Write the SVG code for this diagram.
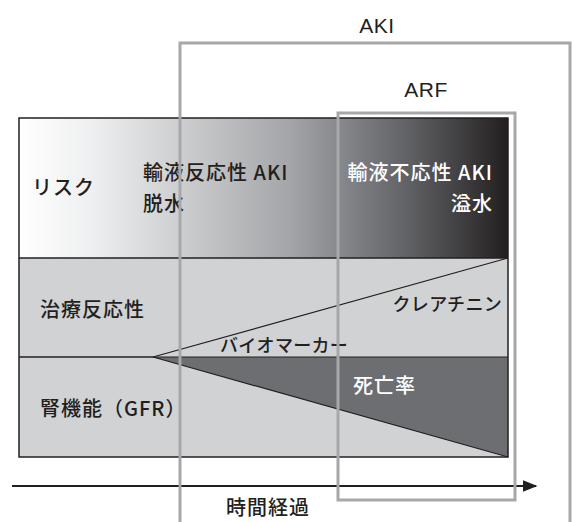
<svg xmlns="http://www.w3.org/2000/svg" width="572" height="522" viewBox="0 0 572 522">
<defs>
<linearGradient id="riskGrad" x1="19" y1="0" x2="508" y2="0" gradientUnits="userSpaceOnUse">
<stop offset="0" stop-color="#ffffff"/>
<stop offset="0.15" stop-color="#eeeff0"/>
<stop offset="0.55" stop-color="#a5a6a9"/>
<stop offset="0.8" stop-color="#5f6063"/>
<stop offset="1" stop-color="#231f20"/>
</linearGradient>
<marker id="arrow" viewBox="0 0 10 10" refX="9" refY="5" markerWidth="15" markerHeight="12" markerUnits="userSpaceOnUse" orient="auto" preserveAspectRatio="none">
<path d="M0,0 L10,5 L0,10 z" fill="#231f20"/>
</marker>
</defs>
<style>
text{font-family:"Noto Sans CJK JP","Liberation Sans",sans-serif;font-size:20px;letter-spacing:1px;fill:#231f20;font-weight:500}
.w{fill:#ffffff}
.kana{font-size:18px;letter-spacing:0.3px}
.lat{font-family:"Liberation Sans","Noto Sans CJK JP",sans-serif;font-size:21px;letter-spacing:0.5px}
.frame{fill:none;stroke:#a7a8aa;stroke-width:3}
.edge{stroke:#231f20;stroke-width:1.5;fill:none}
.thin{stroke:#231f20;stroke-width:1.2;fill:none}
</style>
<rect width="572" height="522" fill="#ffffff"/>
<g id="risk-row">
<rect x="19" y="118" width="489" height="140" fill="url(#riskGrad)"/>
<text x="32" y="195">リスク</text>
<text x="143" y="180">輸液反応性 AKI</text>
<text x="143" y="211">脱水</text>
<text class="w" x="493" y="180" text-anchor="end">輸液不応性 AKI</text>
<text class="w" x="493" y="211" text-anchor="end">溢水</text>
</g>
<g id="treatment-row">
<rect x="19" y="258" width="489" height="99" fill="#d1d2d4"/>
<text x="40" y="317">治療反応性</text>
<text class="kana" x="502" y="311" text-anchor="end">クレアチニン</text>
</g>
<g id="renal-row">
<rect x="19" y="357" width="489" height="100" fill="#d1d2d4"/>
<polygon points="153,357 508,357 508,457" fill="#6d6e71"/>
<text x="40" y="416">腎機能（GFR）</text>
<text class="w" x="353" y="393">死亡率</text>
</g>
<g id="biomarker">
<text class="kana" x="220" y="352">バイオマーカー</text>
</g>
<g id="grid">
<rect x="19" y="118" width="489" height="339" class="edge"/>
<line x1="19" y1="258" x2="508" y2="258" class="edge"/>
<line x1="19" y1="357" x2="153" y2="357" class="edge"/>
<line x1="153" y1="357" x2="508" y2="357" class="thin"/>
</g>
<g id="connectors">
<line x1="153" y1="357" x2="508" y2="258" class="thin"/>
<line x1="153" y1="357" x2="508" y2="457" class="thin"/>
<line x1="12" y1="486" x2="536" y2="486" stroke="#231f20" stroke-width="2" marker-end="url(#arrow)"/>
</g>
<g id="time-label">
<text x="268" y="515" text-anchor="middle">時間経過</text>
</g>
<g id="aki">
<polyline points="180,522 180,43 570,43 570,522" class="frame"/>
<text class="lat" x="377" y="33" text-anchor="middle">AKI</text>
</g>
<g id="arf">
<rect x="338" y="113" width="177" height="387" class="frame"/>
<text class="lat" x="426" y="97" text-anchor="middle">ARF</text>
</g>
</svg>
